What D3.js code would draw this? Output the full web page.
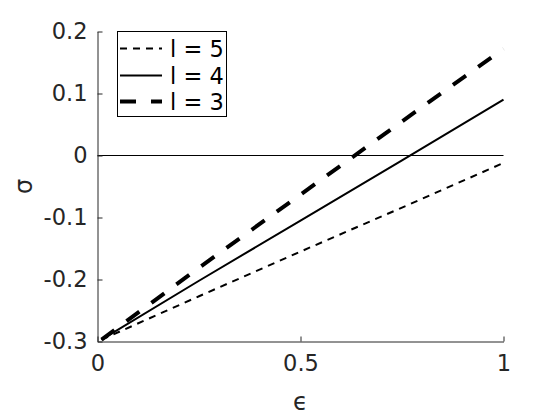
<!DOCTYPE html>
<html>
<head>
<meta charset="utf-8">
<script src="https://cdn.jsdelivr.net/npm/d3@7"></script>
<style>
html,body{margin:0;padding:0;background:#fff;}
svg{display:block;}
text{font-family:"DejaVu Sans",sans-serif;}
</style>
</head>
<body>
<svg id="chart" width="557" height="418"></svg>
<script>
const epsValues = [0.01, 0.25, 0.5, 0.75, 1];
const sigmaL5 = [-0.297, -0.227, -0.155, -0.084, -0.012];
const sigmaL4 = [-0.297, -0.202, -0.105, -0.008, 0.090];
const sigmaL3 = [-0.297, -0.181, -0.063, 0.055, 0.172];
const seriesNames = ["l = 5", "l = 4", "l = 3"];
const xTicks = [0, 0.5, 1];
const xTickLabels = ["0", "0.5", "1"];
const yTicks = [-0.3, -0.2, -0.1, 0, 0.1, 0.2];
const yTickLabels = ["-0.3", "-0.2", "-0.1", "0", "0.1", "0.2"];

const svg = d3.select("#chart");
const axisColor = "#262626";
const x = d3.scaleLinear().domain([0, 1]).range([97.5, 503.5]);
const y = d3.scaleLinear().domain([-0.3, 0.2]).range([341.5, 31.5]);

const styles = [
  {w: 2, dash: "7,6"},
  {w: 2, dash: null},
  {w: 4, dash: "16,15"}
];
const seriesData = [sigmaL5, sigmaL4, sigmaL3];

// zero reference line
svg.append("line")
  .attr("x1", x(0)).attr("x2", x(1))
  .attr("y1", y(0)).attr("y2", y(0))
  .attr("stroke", "#000").attr("stroke-width", 1);

const line = d3.line().x(d => x(d[0])).y(d => y(d[1]));
seriesData.forEach((vals, i) => {
  const pts = epsValues.map((e, j) => [e, vals[j]]);
  const p = svg.append("path")
    .attr("d", line(pts))
    .attr("fill", "none")
    .attr("stroke", "#000")
    .attr("stroke-width", styles[i].w);
  if (styles[i].dash) p.attr("stroke-dasharray", styles[i].dash);
});

// axes
const xAxis = d3.axisBottom(x).tickValues(xTicks).tickFormat((d, i) => xTickLabels[i])
  .tickSizeInner(-5).tickSizeOuter(0).tickPadding(14);
const gx = svg.append("g").attr("transform", `translate(0,${y(-0.3)})`).call(xAxis);
const yAxis = d3.axisLeft(y).tickValues(yTicks).tickFormat((d, i) => yTickLabels[i])
  .tickSizeInner(-5).tickSizeOuter(0).tickPadding(10);
const gy = svg.append("g").attr("transform", `translate(${x(0)},0)`).call(yAxis);
[gx, gy].forEach(g => {
  g.select(".domain").attr("stroke", axisColor).attr("stroke-width", 1);
  g.selectAll(".tick line").attr("stroke", axisColor);
  g.selectAll(".tick text").attr("fill", axisColor)
    .style("font-family", "'DejaVu Sans', sans-serif").style("font-size", "22.5px");
});
gx.selectAll(".tick text").attr("dy", "0.71em");

// axis labels
svg.append("text")
  .attr("x", x(0.5)).attr("y", 410)
  .attr("text-anchor", "middle")
  .attr("fill", axisColor)
  .style("font-size", "24px")
  .text("ϵ");
svg.append("text")
  .attr("transform", `translate(32,${y(-0.05)}) rotate(-90)`)
  .attr("text-anchor", "middle")
  .attr("fill", axisColor)
  .style("font-size", "24px")
  .text("σ");

// legend
const lg = svg.append("g");
lg.append("rect")
  .attr("x", 117.5).attr("y", 31.5)
  .attr("width", 109).attr("height", 85)
  .attr("fill", "#fff").attr("stroke", "#000").attr("stroke-width", 1);
const rowY = [48.5, 75.5, 101.5];
seriesNames.forEach((name, i) => {
  const l = lg.append("line")
    .attr("x1", 120).attr("x2", 162)
    .attr("y1", rowY[i]).attr("y2", rowY[i])
    .attr("stroke", "#000").attr("stroke-width", styles[i].w);
  if (styles[i].dash) l.attr("stroke-dasharray", styles[i].dash);
  lg.append("text")
    .attr("x", 170).attr("y", rowY[i])
    .attr("dy", "0.36em")
    .attr("fill", "#000")
    .style("font-size", "22.5px")
    .text(name);
});
</script>
</body>
</html>
